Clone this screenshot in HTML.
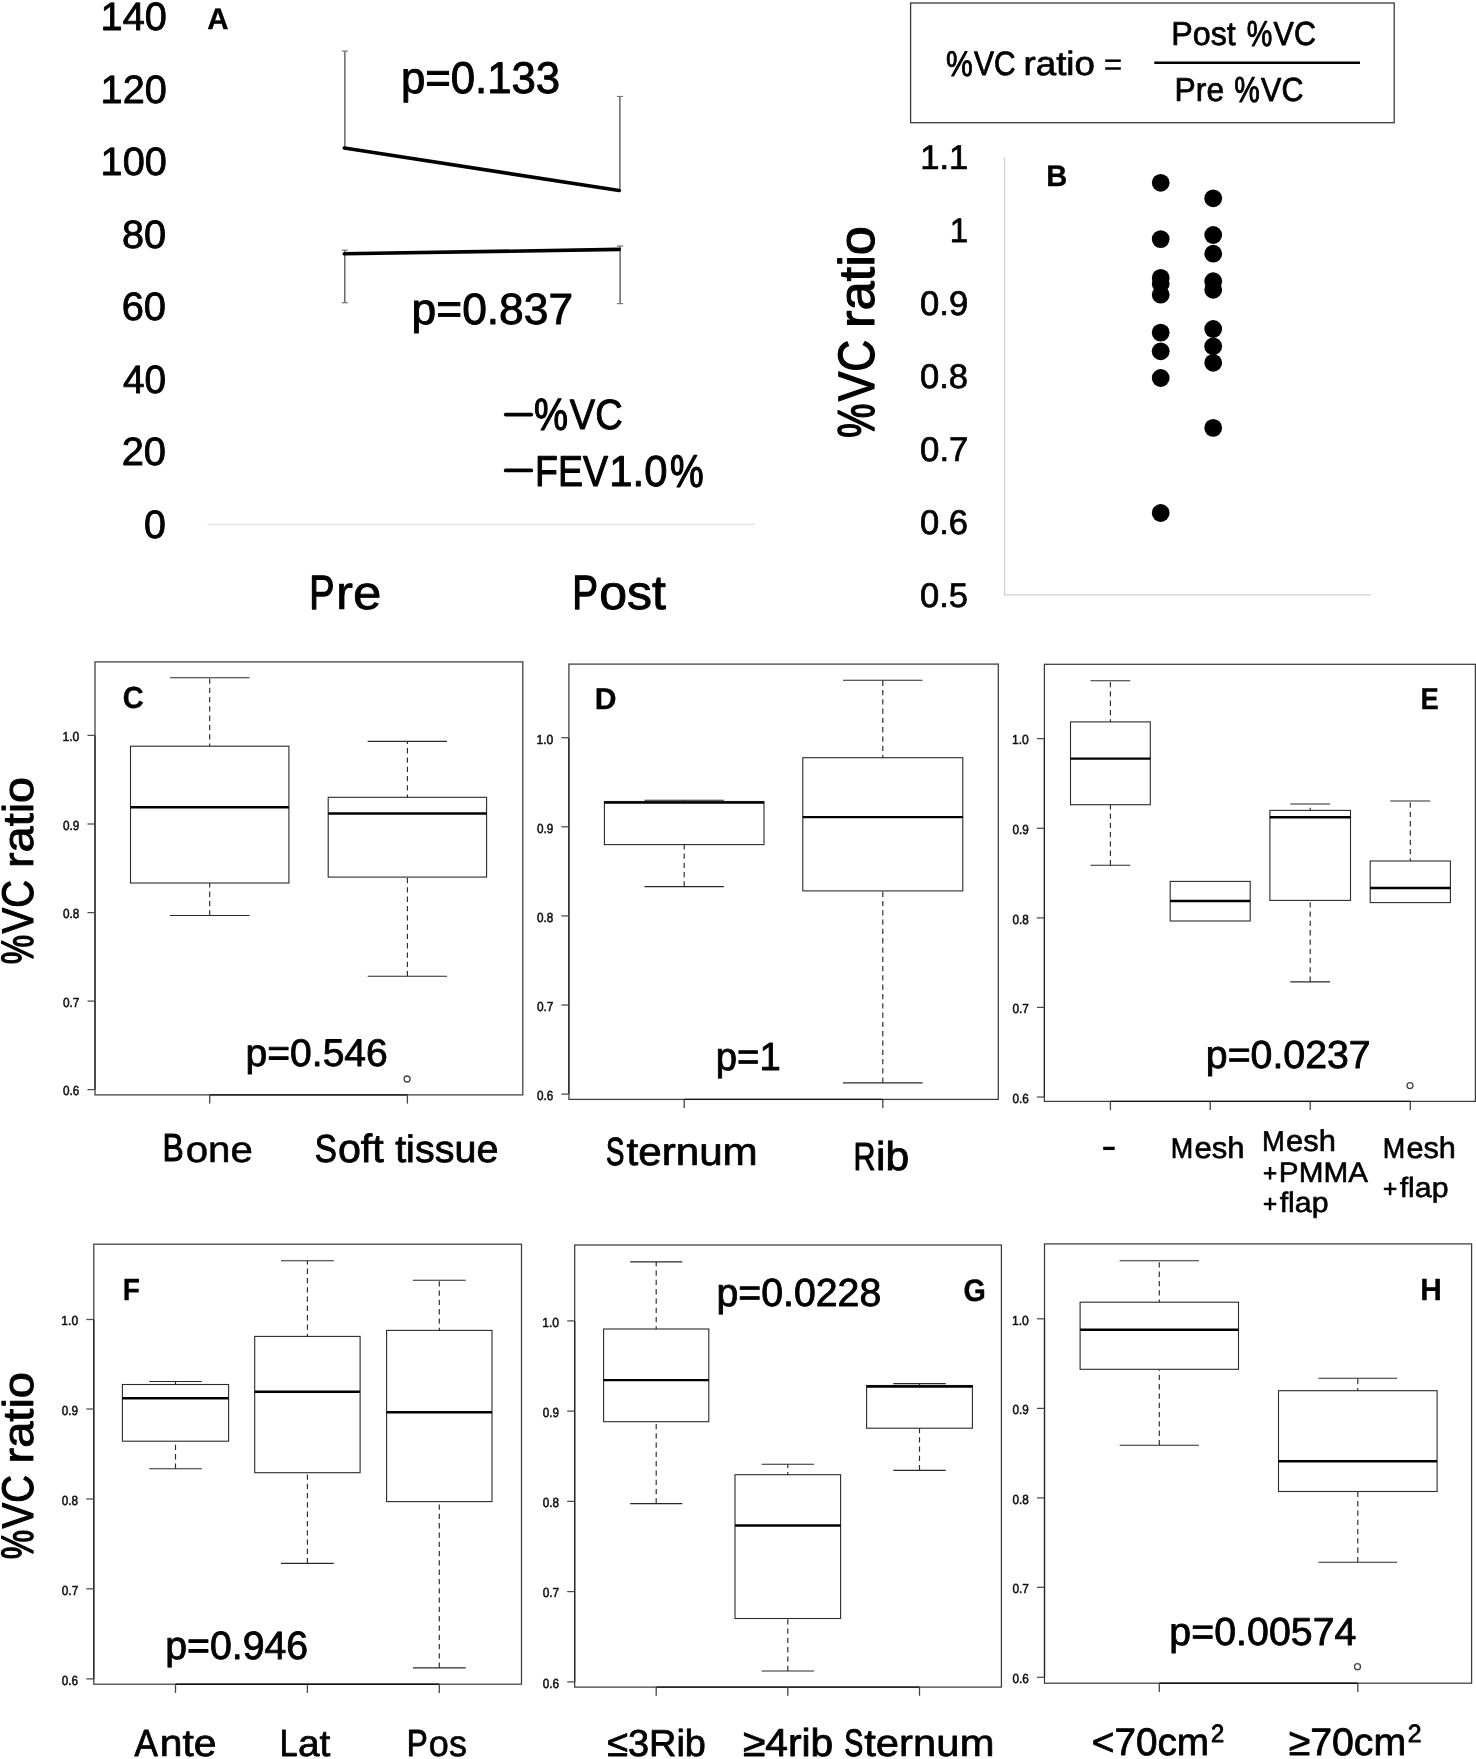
<!DOCTYPE html>
<html><head><meta charset="utf-8"><title>Figure</title>
<style>
html,body{margin:0;padding:0;background:#fff;}
body{width:1476px;height:1759px;overflow:hidden;}
svg{display:block;will-change:transform;text-rendering:geometricPrecision;font-family:"Liberation Sans",sans-serif;}
</style></head><body>
<svg width="1476" height="1759" viewBox="0 0 1476 1759">
<rect x="0" y="0" width="1476" height="1759" fill="#fff"/>
<text transform="matrix(0.19854 0 0 0.19750 100.55 30.32)" font-size="200" fill="#000" stroke="#000" stroke-width="4.31" stroke-linejoin="round">140</text>
<text transform="matrix(0.19854 0 0 0.19750 100.55 102.78)" font-size="200" fill="#000" stroke="#000" stroke-width="4.31" stroke-linejoin="round">120</text>
<text transform="matrix(0.19854 0 0 0.19750 100.55 175.24)" font-size="200" fill="#000" stroke="#000" stroke-width="4.31" stroke-linejoin="round">100</text>
<text transform="matrix(0.19779 0 0 0.19747 121.95 247.70)" font-size="200" fill="#000" stroke="#000" stroke-width="4.32" stroke-linejoin="round">80</text>
<text transform="matrix(0.19876 0 0 0.19750 121.74 320.17)" font-size="200" fill="#000" stroke="#000" stroke-width="4.30" stroke-linejoin="round">60</text>
<text transform="matrix(0.19310 0 0 0.19733 122.96 392.61)" font-size="200" fill="#000" stroke="#000" stroke-width="4.43" stroke-linejoin="round">40</text>
<text transform="matrix(0.19876 0 0 0.19750 121.74 465.09)" font-size="200" fill="#000" stroke="#000" stroke-width="4.30" stroke-linejoin="round">20</text>
<text transform="matrix(0.19630 0 0 0.19743 144.06 537.54)" font-size="200" fill="#000" stroke="#000" stroke-width="4.36" stroke-linejoin="round">0</text>
<line x1="207.60" y1="524.30" x2="755.20" y2="524.30" stroke="#e2e2e2" stroke-width="1.3"/>
<text transform="matrix(0.14776 0 0 0.14854 207.21 28.95)" font-size="200" font-weight="bold" fill="#000" stroke="#000" stroke-width="2.03" stroke-linejoin="round">A</text>
<line x1="344.90" y1="51.10" x2="344.90" y2="147.50" stroke="#4a4a4a" stroke-width="1.25"/>
<line x1="341.80" y1="51.10" x2="348.00" y2="51.10" stroke="#777" stroke-width="1.2"/>
<line x1="619.90" y1="96.50" x2="619.90" y2="191.00" stroke="#4a4a4a" stroke-width="1.25"/>
<line x1="616.80" y1="96.50" x2="623.00" y2="96.50" stroke="#777" stroke-width="1.2"/>
<line x1="344.80" y1="250.20" x2="344.80" y2="302.70" stroke="#4a4a4a" stroke-width="1.25"/>
<line x1="341.70" y1="250.20" x2="347.90" y2="250.20" stroke="#777" stroke-width="1.2"/>
<line x1="341.70" y1="302.70" x2="347.90" y2="302.70" stroke="#777" stroke-width="1.2"/>
<line x1="620.10" y1="246.00" x2="620.10" y2="303.60" stroke="#4a4a4a" stroke-width="1.25"/>
<line x1="617.00" y1="246.00" x2="623.20" y2="246.00" stroke="#777" stroke-width="1.2"/>
<line x1="617.00" y1="303.60" x2="623.20" y2="303.60" stroke="#777" stroke-width="1.2"/>
<line x1="344.30" y1="148.00" x2="619.20" y2="190.50" stroke="#000" stroke-width="3.6" stroke-linecap="round"/>
<line x1="344.30" y1="253.80" x2="619.20" y2="249.40" stroke="#000" stroke-width="3.6" stroke-linecap="round"/>
<text transform="matrix(0.21830 0 0 0.22161 401.04 93.41)" font-size="200" fill="#000" stroke="#000" stroke-width="4.40" stroke-linejoin="round">p=0.133</text>
<text transform="matrix(0.22163 0 0 0.21902 411.59 324.13)" font-size="200" fill="#000" stroke="#000" stroke-width="4.28" stroke-linejoin="round">p=0.837</text>
<line x1="505.70" y1="414.60" x2="531.30" y2="414.60" stroke="#000" stroke-width="3.7" stroke-linecap="round"/>
<text transform="matrix(0.19160 0 0 0.22622 534.05 430.42)" font-size="200" fill="#000" stroke="#000" stroke-width="5.10" stroke-linejoin="round">%</text>
<text transform="matrix(0.19067 0 0 0.21223 569.76 429.49)" font-size="200" fill="#000" stroke="#000" stroke-width="4.77" stroke-linejoin="round">VC</text>
<line x1="505.70" y1="470.40" x2="531.30" y2="470.40" stroke="#000" stroke-width="3.7" stroke-linecap="round"/>
<text transform="matrix(0.18783 0 0 0.21618 534.96 485.77)" font-size="200" fill="#000" stroke="#000" stroke-width="4.94" stroke-linejoin="round">FEV</text>
<text transform="matrix(0.20883 0 0 0.21661 609.34 485.81)" font-size="200" fill="#000" stroke="#000" stroke-width="4.50" stroke-linejoin="round">1.0</text>
<text transform="matrix(0.18907 0 0 0.22946 670.07 486.70)" font-size="200" fill="#000" stroke="#000" stroke-width="5.25" stroke-linejoin="round">%</text>
<text transform="matrix(0.18936 0 0 0.24115 309.29 609.04)" font-size="200" fill="#000" stroke="#000" stroke-width="5.48" stroke-linejoin="round">P</text>
<text transform="matrix(0.25458 0 0 0.23585 336.08 609.34)" font-size="200" fill="#000" stroke="#000" stroke-width="3.09" stroke-linejoin="round">re</text>
<text transform="matrix(0.19310 0 0 0.24132 572.33 609.05)" font-size="200" fill="#000" stroke="#000" stroke-width="5.38" stroke-linejoin="round">P</text>
<text transform="matrix(0.24955 0 0 0.24053 599.29 609.23)" font-size="200" fill="#000" stroke="#000" stroke-width="3.87" stroke-linejoin="round">ost</text>
<rect x="910.60" y="3.00" width="483.60" height="119.70" fill="none" stroke="#3a3a3a" stroke-width="1.3"/>
<text transform="matrix(0.15077 0 0 0.17900 946.03 75.84)" font-size="200" fill="#000" stroke="#000" stroke-width="5.13" stroke-linejoin="round">%</text>
<text transform="matrix(0.14973 0 0 0.16873 973.91 75.19)" font-size="200" fill="#000" stroke="#000" stroke-width="4.83" stroke-linejoin="round">VC</text>
<text transform="matrix(0.18329 0 0 0.16768 1023.59 75.26)" font-size="200" fill="#000" stroke="#000" stroke-width="4.09" stroke-linejoin="round">ratio</text>
<line x1="1105.20" y1="60.70" x2="1120.80" y2="60.70" stroke="#000" stroke-width="2.5"/>
<line x1="1105.20" y1="68.50" x2="1120.80" y2="68.50" stroke="#000" stroke-width="2.5"/>
<text transform="matrix(0.16133 0 0 0.16642 1171.27 45.33)" font-size="200" fill="#000" stroke="#000" stroke-width="4.41" stroke-linejoin="round">Post</text>
<text transform="matrix(0.14402 0 0 0.18004 1246.78 46.01)" font-size="200" fill="#000" stroke="#000" stroke-width="5.42" stroke-linejoin="round">%</text>
<text transform="matrix(0.15198 0 0 0.16746 1273.61 45.40)" font-size="200" fill="#000" stroke="#000" stroke-width="4.72" stroke-linejoin="round">VC</text>
<line x1="1154.30" y1="62.80" x2="1360.00" y2="62.80" stroke="#000" stroke-width="2.5"/>
<text transform="matrix(0.15941 0 0 0.16568 1174.50 101.33)" font-size="200" fill="#000" stroke="#000" stroke-width="4.44" stroke-linejoin="round">Pre</text>
<text transform="matrix(0.14401 0 0 0.18070 1234.28 102.11)" font-size="200" fill="#000" stroke="#000" stroke-width="5.44" stroke-linejoin="round">%</text>
<text transform="matrix(0.15198 0 0 0.16746 1261.11 101.40)" font-size="200" fill="#000" stroke="#000" stroke-width="4.72" stroke-linejoin="round">VC</text>
<text transform="matrix(0.17269 0 0 0.17051 920.18 169.24)" font-size="200" fill="#000" stroke="#000" stroke-width="4.27" stroke-linejoin="round">1.1</text>
<text transform="matrix(0.16508 0 0 0.17028 949.79 242.10)" font-size="200" fill="#000" stroke="#000" stroke-width="4.47" stroke-linejoin="round">1</text>
<text transform="matrix(0.17303 0 0 0.17052 920.08 315.00)" font-size="200" fill="#000" stroke="#000" stroke-width="4.27" stroke-linejoin="round">0.9</text>
<text transform="matrix(0.17237 0 0 0.17050 920.09 387.88)" font-size="200" fill="#000" stroke="#000" stroke-width="4.28" stroke-linejoin="round">0.8</text>
<text transform="matrix(0.17370 0 0 0.17054 920.08 460.76)" font-size="200" fill="#000" stroke="#000" stroke-width="4.25" stroke-linejoin="round">0.7</text>
<text transform="matrix(0.17237 0 0 0.17050 920.09 533.64)" font-size="200" fill="#000" stroke="#000" stroke-width="4.28" stroke-linejoin="round">0.6</text>
<text transform="matrix(0.17237 0 0 0.17050 920.09 606.52)" font-size="200" fill="#000" stroke="#000" stroke-width="4.28" stroke-linejoin="round">0.5</text>
<line x1="1004.60" y1="157.50" x2="1004.60" y2="595.40" stroke="#cfcfcf" stroke-width="1.2"/>
<line x1="1004.00" y1="594.90" x2="1370.70" y2="594.90" stroke="#cfcfcf" stroke-width="1.2"/>
<text transform="matrix(0.14590 0 0 0.14851 1046.25 185.75)" font-size="200" font-weight="bold" fill="#000" stroke="#000" stroke-width="2.06" stroke-linejoin="round">B</text>
<text transform="matrix(0 -0.26243 0.25119 0 874.06 328.05)" font-size="200" fill="#000" stroke="#000" stroke-width="4.29" stroke-linejoin="round">ratio</text>
<text transform="matrix(0 -0.19249 0.26022 0 874.24 437.78)" font-size="200" fill="#000" stroke="#000" stroke-width="5.88" stroke-linejoin="round">%</text>
<text transform="matrix(0 -0.22120 0.25601 0 873.96 401.37)" font-size="200" fill="#000" stroke="#000" stroke-width="4.96" stroke-linejoin="round">VC</text>
<circle cx="1160.70" cy="182.80" r="8.9" fill="#000" stroke="none" stroke-width="1"/>
<circle cx="1160.70" cy="239.10" r="8.9" fill="#000" stroke="none" stroke-width="1"/>
<circle cx="1160.70" cy="277.90" r="8.9" fill="#000" stroke="none" stroke-width="1"/>
<circle cx="1160.70" cy="283.70" r="8.9" fill="#000" stroke="none" stroke-width="1"/>
<circle cx="1160.70" cy="294.70" r="8.9" fill="#000" stroke="none" stroke-width="1"/>
<circle cx="1160.70" cy="332.60" r="8.9" fill="#000" stroke="none" stroke-width="1"/>
<circle cx="1160.70" cy="351.30" r="8.9" fill="#000" stroke="none" stroke-width="1"/>
<circle cx="1160.70" cy="378.00" r="8.9" fill="#000" stroke="none" stroke-width="1"/>
<circle cx="1160.70" cy="513.00" r="8.9" fill="#000" stroke="none" stroke-width="1"/>
<circle cx="1213.20" cy="198.30" r="8.9" fill="#000" stroke="none" stroke-width="1"/>
<circle cx="1213.20" cy="235.00" r="8.9" fill="#000" stroke="none" stroke-width="1"/>
<circle cx="1213.20" cy="253.70" r="8.9" fill="#000" stroke="none" stroke-width="1"/>
<circle cx="1213.20" cy="281.20" r="8.9" fill="#000" stroke="none" stroke-width="1"/>
<circle cx="1213.20" cy="289.80" r="8.9" fill="#000" stroke="none" stroke-width="1"/>
<circle cx="1213.20" cy="329.00" r="8.9" fill="#000" stroke="none" stroke-width="1"/>
<circle cx="1213.20" cy="346.30" r="8.9" fill="#000" stroke="none" stroke-width="1"/>
<circle cx="1213.20" cy="362.80" r="8.9" fill="#000" stroke="none" stroke-width="1"/>
<circle cx="1213.20" cy="427.90" r="8.9" fill="#000" stroke="none" stroke-width="1"/>
<rect x="95.00" y="661.90" width="427.80" height="433.00" fill="none" stroke="#3c3c3c" stroke-width="1.25"/>
<line x1="95.00" y1="735.40" x2="95.00" y2="1089.60" stroke="#222" stroke-width="1.2"/>
<line x1="87.50" y1="735.40" x2="95.00" y2="735.40" stroke="#4a4a4a" stroke-width="1.25"/>
<text transform="matrix(0.06016 0 0 0.06540 62.55 741.23)" font-size="200" fill="#111" stroke="#111" stroke-width="8.31" stroke-linejoin="round">1.0</text>
<line x1="87.50" y1="824.00" x2="95.00" y2="824.00" stroke="#4a4a4a" stroke-width="1.25"/>
<text transform="matrix(0.05900 0 0 0.06533 62.98 829.82)" font-size="200" fill="#111" stroke="#111" stroke-width="8.47" stroke-linejoin="round">0.9</text>
<line x1="87.50" y1="912.60" x2="95.00" y2="912.60" stroke="#4a4a4a" stroke-width="1.25"/>
<text transform="matrix(0.05878 0 0 0.06532 62.98 918.42)" font-size="200" fill="#111" stroke="#111" stroke-width="8.51" stroke-linejoin="round">0.8</text>
<line x1="87.50" y1="1001.10" x2="95.00" y2="1001.10" stroke="#4a4a4a" stroke-width="1.25"/>
<text transform="matrix(0.05923 0 0 0.06534 62.98 1006.92)" font-size="200" fill="#111" stroke="#111" stroke-width="8.44" stroke-linejoin="round">0.7</text>
<line x1="87.50" y1="1089.60" x2="95.00" y2="1089.60" stroke="#4a4a4a" stroke-width="1.25"/>
<text transform="matrix(0.05878 0 0 0.06532 62.98 1095.42)" font-size="200" fill="#111" stroke="#111" stroke-width="8.51" stroke-linejoin="round">0.6</text>
<line x1="209.70" y1="1094.90" x2="407.40" y2="1094.90" stroke="#111" stroke-width="1.35"/>
<line x1="209.70" y1="1094.90" x2="209.70" y2="1103.60" stroke="#444" stroke-width="1.3"/>
<rect x="130.50" y="746.20" width="158.40" height="136.80" fill="none" stroke="#2a2a2a" stroke-width="1.1"/>
<line x1="130.50" y1="807.20" x2="288.90" y2="807.20" stroke="#000" stroke-width="2.45"/>
<line x1="209.70" y1="746.20" x2="209.70" y2="677.70" stroke="#2a2a2a" stroke-width="1.15" stroke-dasharray="5.3 4.0" stroke-dashoffset="2.6"/>
<line x1="169.90" y1="677.70" x2="249.50" y2="677.70" stroke="#2a2a2a" stroke-width="1.1"/>
<line x1="209.70" y1="915.50" x2="209.70" y2="883.00" stroke="#2a2a2a" stroke-width="1.15" stroke-dasharray="5.3 4.0"/>
<line x1="169.90" y1="915.50" x2="249.50" y2="915.50" stroke="#2a2a2a" stroke-width="1.1"/>
<line x1="407.40" y1="1094.90" x2="407.40" y2="1103.60" stroke="#444" stroke-width="1.3"/>
<rect x="328.20" y="797.30" width="158.40" height="79.80" fill="none" stroke="#2a2a2a" stroke-width="1.1"/>
<line x1="328.20" y1="813.40" x2="486.60" y2="813.40" stroke="#000" stroke-width="2.45"/>
<line x1="407.40" y1="797.30" x2="407.40" y2="741.40" stroke="#2a2a2a" stroke-width="1.15" stroke-dasharray="5.3 4.0" stroke-dashoffset="2.6"/>
<line x1="367.70" y1="741.40" x2="447.10" y2="741.40" stroke="#2a2a2a" stroke-width="1.1"/>
<line x1="407.40" y1="976.30" x2="407.40" y2="877.10" stroke="#2a2a2a" stroke-width="1.15" stroke-dasharray="5.3 4.0"/>
<line x1="367.70" y1="976.30" x2="447.10" y2="976.30" stroke="#2a2a2a" stroke-width="1.1"/>
<circle cx="407.10" cy="1079.00" r="3.0" fill="none" stroke="#444" stroke-width="1.3"/>
<text transform="matrix(0.14580 0 0 0.15275 122.68 708.34)" font-size="200" font-weight="bold" fill="#000" stroke="#000" stroke-width="2.06" stroke-linejoin="round">C</text>
<text transform="matrix(0.19543 0 0 0.19202 245.47 1065.79)" font-size="200" fill="#000" stroke="#000" stroke-width="4.25" stroke-linejoin="round">p=0.546</text>
<text transform="matrix(0.15944 0 0 0.19544 162.47 1161.49)" font-size="200" fill="#000" stroke="#000" stroke-width="5.27" stroke-linejoin="round">B</text>
<text transform="matrix(0.20154 0 0 0.18372 185.69 1161.72)" font-size="200" fill="#000" stroke="#000" stroke-width="3.04" stroke-linejoin="round">one</text>
<text transform="matrix(0.16569 0 0 0.19434 314.63 1161.50)" font-size="200" fill="#000" stroke="#000" stroke-width="5.11" stroke-linejoin="round">S</text>
<text transform="matrix(0.20619 0 0 0.19695 337.89 1161.58)" font-size="200" fill="#000" stroke="#000" stroke-width="4.28" stroke-linejoin="round">oft</text>
<text transform="matrix(0.19774 0 0 0.19021 395.13 1161.59)" font-size="200" fill="#000" stroke="#000" stroke-width="4.31" stroke-linejoin="round">tissue</text>
<text transform="matrix(0 -0.23462 0.21463 0 32.76 868.07)" font-size="200" fill="#000" stroke="#000" stroke-width="4.09" stroke-linejoin="round">ratio</text>
<text transform="matrix(0 -0.16530 0.22760 0 33.32 964.26)" font-size="200" fill="#000" stroke="#000" stroke-width="5.99" stroke-linejoin="round">%</text>
<text transform="matrix(0 -0.19200 0.22175 0 32.65 933.42)" font-size="200" fill="#000" stroke="#000" stroke-width="4.95" stroke-linejoin="round">VC</text>
<rect x="568.90" y="664.10" width="429.40" height="435.30" fill="none" stroke="#3c3c3c" stroke-width="1.25"/>
<line x1="568.90" y1="737.70" x2="568.90" y2="1094.10" stroke="#222" stroke-width="1.2"/>
<line x1="561.40" y1="737.70" x2="568.90" y2="737.70" stroke="#4a4a4a" stroke-width="1.25"/>
<text transform="matrix(0.06016 0 0 0.06540 536.45 743.53)" font-size="200" fill="#111" stroke="#111" stroke-width="8.31" stroke-linejoin="round">1.0</text>
<line x1="561.40" y1="826.80" x2="568.90" y2="826.80" stroke="#4a4a4a" stroke-width="1.25"/>
<text transform="matrix(0.05900 0 0 0.06533 536.88 832.62)" font-size="200" fill="#111" stroke="#111" stroke-width="8.47" stroke-linejoin="round">0.9</text>
<line x1="561.40" y1="915.90" x2="568.90" y2="915.90" stroke="#4a4a4a" stroke-width="1.25"/>
<text transform="matrix(0.05878 0 0 0.06532 536.88 921.72)" font-size="200" fill="#111" stroke="#111" stroke-width="8.51" stroke-linejoin="round">0.8</text>
<line x1="561.40" y1="1005.00" x2="568.90" y2="1005.00" stroke="#4a4a4a" stroke-width="1.25"/>
<text transform="matrix(0.05923 0 0 0.06534 536.88 1010.82)" font-size="200" fill="#111" stroke="#111" stroke-width="8.44" stroke-linejoin="round">0.7</text>
<line x1="561.40" y1="1094.10" x2="568.90" y2="1094.10" stroke="#4a4a4a" stroke-width="1.25"/>
<text transform="matrix(0.05878 0 0 0.06532 536.88 1099.92)" font-size="200" fill="#111" stroke="#111" stroke-width="8.51" stroke-linejoin="round">0.6</text>
<line x1="684.20" y1="1099.40" x2="882.80" y2="1099.40" stroke="#111" stroke-width="1.35"/>
<line x1="684.20" y1="1099.40" x2="684.20" y2="1108.10" stroke="#444" stroke-width="1.3"/>
<rect x="604.40" y="801.50" width="159.60" height="43.10" fill="none" stroke="#2a2a2a" stroke-width="1.1"/>
<line x1="604.40" y1="802.60" x2="764.00" y2="802.60" stroke="#000" stroke-width="2.45"/>
<line x1="684.20" y1="801.50" x2="684.20" y2="800.30" stroke="#2a2a2a" stroke-width="1.15" stroke-dasharray="5.3 4.0" stroke-dashoffset="2.6"/>
<line x1="644.50" y1="800.30" x2="723.90" y2="800.30" stroke="#2a2a2a" stroke-width="1.1"/>
<line x1="684.20" y1="886.60" x2="684.20" y2="844.60" stroke="#2a2a2a" stroke-width="1.15" stroke-dasharray="5.3 4.0"/>
<line x1="644.50" y1="886.60" x2="723.90" y2="886.60" stroke="#2a2a2a" stroke-width="1.1"/>
<line x1="882.80" y1="1099.40" x2="882.80" y2="1108.10" stroke="#444" stroke-width="1.3"/>
<rect x="802.80" y="757.70" width="160.00" height="133.20" fill="none" stroke="#2a2a2a" stroke-width="1.1"/>
<line x1="802.80" y1="817.10" x2="962.80" y2="817.10" stroke="#000" stroke-width="2.45"/>
<line x1="882.80" y1="757.70" x2="882.80" y2="680.20" stroke="#2a2a2a" stroke-width="1.15" stroke-dasharray="5.3 4.0" stroke-dashoffset="2.6"/>
<line x1="843.00" y1="680.20" x2="922.60" y2="680.20" stroke="#2a2a2a" stroke-width="1.1"/>
<line x1="882.80" y1="1082.90" x2="882.80" y2="890.90" stroke="#2a2a2a" stroke-width="1.15" stroke-dasharray="5.3 4.0"/>
<line x1="843.00" y1="1082.90" x2="922.60" y2="1082.90" stroke="#2a2a2a" stroke-width="1.1"/>
<text transform="matrix(0.15041 0 0 0.15072 594.79 709.15)" font-size="200" font-weight="bold" fill="#000" stroke="#000" stroke-width="1.99" stroke-linejoin="round">D</text>
<text transform="matrix(0.19168 0 0 0.19597 715.73 1069.87)" font-size="200" fill="#000" stroke="#000" stroke-width="4.37" stroke-linejoin="round">p=1</text>
<text transform="matrix(0.13776 0 0 0.19558 606.09 1164.59)" font-size="200" fill="#000" stroke="#000" stroke-width="6.23" stroke-linejoin="round">S</text>
<text transform="matrix(0.21058 0 0 0.19446 626.56 1164.84)" font-size="200" fill="#000" stroke="#000" stroke-width="3.70" stroke-linejoin="round">ternum</text>
<text transform="matrix(0.15258 0 0 0.19578 853.38 1169.66)" font-size="200" fill="#000" stroke="#000" stroke-width="5.52" stroke-linejoin="round">R</text>
<text transform="matrix(0.21269 0 0 0.20103 876.09 1169.77)" font-size="200" fill="#000" stroke="#000" stroke-width="4.23" stroke-linejoin="round">ib</text>
<rect x="1044.40" y="664.30" width="431.00" height="437.10" fill="none" stroke="#3c3c3c" stroke-width="1.25"/>
<line x1="1044.40" y1="738.60" x2="1044.40" y2="1097.00" stroke="#222" stroke-width="1.2"/>
<line x1="1036.90" y1="738.60" x2="1044.40" y2="738.60" stroke="#4a4a4a" stroke-width="1.25"/>
<text transform="matrix(0.06016 0 0 0.06540 1011.95 744.43)" font-size="200" fill="#111" stroke="#111" stroke-width="8.31" stroke-linejoin="round">1.0</text>
<line x1="1036.90" y1="828.30" x2="1044.40" y2="828.30" stroke="#4a4a4a" stroke-width="1.25"/>
<text transform="matrix(0.05900 0 0 0.06533 1012.38 834.12)" font-size="200" fill="#111" stroke="#111" stroke-width="8.47" stroke-linejoin="round">0.9</text>
<line x1="1036.90" y1="917.90" x2="1044.40" y2="917.90" stroke="#4a4a4a" stroke-width="1.25"/>
<text transform="matrix(0.05878 0 0 0.06532 1012.38 923.72)" font-size="200" fill="#111" stroke="#111" stroke-width="8.51" stroke-linejoin="round">0.8</text>
<line x1="1036.90" y1="1007.40" x2="1044.40" y2="1007.40" stroke="#4a4a4a" stroke-width="1.25"/>
<text transform="matrix(0.05923 0 0 0.06534 1012.38 1013.22)" font-size="200" fill="#111" stroke="#111" stroke-width="8.44" stroke-linejoin="round">0.7</text>
<line x1="1036.90" y1="1097.00" x2="1044.40" y2="1097.00" stroke="#4a4a4a" stroke-width="1.25"/>
<text transform="matrix(0.05878 0 0 0.06532 1012.38 1102.82)" font-size="200" fill="#111" stroke="#111" stroke-width="8.51" stroke-linejoin="round">0.6</text>
<line x1="1110.40" y1="1101.40" x2="1410.30" y2="1101.40" stroke="#111" stroke-width="1.35"/>
<line x1="1110.40" y1="1101.40" x2="1110.40" y2="1110.10" stroke="#444" stroke-width="1.3"/>
<rect x="1070.50" y="721.90" width="79.80" height="82.80" fill="none" stroke="#2a2a2a" stroke-width="1.1"/>
<line x1="1070.50" y1="758.60" x2="1150.30" y2="758.60" stroke="#000" stroke-width="2.45"/>
<line x1="1110.40" y1="721.90" x2="1110.40" y2="680.80" stroke="#2a2a2a" stroke-width="1.15" stroke-dasharray="5.3 4.0" stroke-dashoffset="2.6"/>
<line x1="1090.50" y1="680.80" x2="1130.30" y2="680.80" stroke="#2a2a2a" stroke-width="1.1"/>
<line x1="1110.40" y1="865.20" x2="1110.40" y2="804.70" stroke="#2a2a2a" stroke-width="1.15" stroke-dasharray="5.3 4.0"/>
<line x1="1090.50" y1="865.20" x2="1130.30" y2="865.20" stroke="#2a2a2a" stroke-width="1.1"/>
<line x1="1210.20" y1="1101.40" x2="1210.20" y2="1110.10" stroke="#444" stroke-width="1.3"/>
<rect x="1170.20" y="881.40" width="80.00" height="39.60" fill="none" stroke="#2a2a2a" stroke-width="1.1"/>
<line x1="1170.20" y1="901.00" x2="1250.20" y2="901.00" stroke="#000" stroke-width="2.45"/>
<line x1="1310.20" y1="1101.40" x2="1310.20" y2="1110.10" stroke="#444" stroke-width="1.3"/>
<rect x="1269.90" y="810.40" width="80.60" height="90.00" fill="none" stroke="#2a2a2a" stroke-width="1.1"/>
<line x1="1269.90" y1="817.30" x2="1350.50" y2="817.30" stroke="#000" stroke-width="2.45"/>
<line x1="1310.20" y1="810.40" x2="1310.20" y2="804.00" stroke="#2a2a2a" stroke-width="1.15" stroke-dasharray="5.3 4.0" stroke-dashoffset="2.6"/>
<line x1="1290.30" y1="804.00" x2="1330.10" y2="804.00" stroke="#2a2a2a" stroke-width="1.1"/>
<line x1="1310.20" y1="981.90" x2="1310.20" y2="900.40" stroke="#2a2a2a" stroke-width="1.15" stroke-dasharray="5.3 4.0"/>
<line x1="1290.30" y1="981.90" x2="1330.10" y2="981.90" stroke="#2a2a2a" stroke-width="1.1"/>
<line x1="1410.30" y1="1101.40" x2="1410.30" y2="1110.10" stroke="#444" stroke-width="1.3"/>
<rect x="1370.20" y="861.00" width="80.20" height="41.60" fill="none" stroke="#2a2a2a" stroke-width="1.1"/>
<line x1="1370.20" y1="887.90" x2="1450.40" y2="887.90" stroke="#000" stroke-width="2.45"/>
<line x1="1410.30" y1="861.00" x2="1410.30" y2="801.00" stroke="#2a2a2a" stroke-width="1.15" stroke-dasharray="5.3 4.0" stroke-dashoffset="2.6"/>
<line x1="1390.30" y1="801.00" x2="1430.30" y2="801.00" stroke="#2a2a2a" stroke-width="1.1"/>
<circle cx="1410.00" cy="1085.60" r="3.0" fill="none" stroke="#444" stroke-width="1.3"/>
<text transform="matrix(0.13717 0 0 0.15051 1420.47 709.14)" font-size="200" font-weight="bold" fill="#000" stroke="#000" stroke-width="2.19" stroke-linejoin="round">E</text>
<text transform="matrix(0.19627 0 0 0.19541 1205.87 1067.78)" font-size="200" fill="#000" stroke="#000" stroke-width="4.31" stroke-linejoin="round">p=0.0237</text>
<line x1="1103.20" y1="1148.40" x2="1114.70" y2="1148.40" stroke="#000" stroke-width="3.3"/>
<text transform="matrix(0.13499 0 0 0.14312 1170.85 1158.28)" font-size="200" fill="#000" stroke="#000" stroke-width="4.53" stroke-linejoin="round">M</text>
<text transform="matrix(0.15492 0 0 0.14935 1194.60 1158.28)" font-size="200" fill="#000" stroke="#000" stroke-width="4.32" stroke-linejoin="round">esh</text>
<text transform="matrix(0.13648 0 0 0.14317 1262.12 1151.08)" font-size="200" fill="#000" stroke="#000" stroke-width="4.48" stroke-linejoin="round">M</text>
<text transform="matrix(0.15426 0 0 0.14933 1286.10 1151.08)" font-size="200" fill="#000" stroke="#000" stroke-width="4.34" stroke-linejoin="round">esh</text>
<line x1="1263.80" y1="1173.30" x2="1276.30" y2="1173.30" stroke="#000" stroke-width="2.5"/>
<line x1="1270.05" y1="1167.00" x2="1270.05" y2="1179.60" stroke="#000" stroke-width="2.5"/>
<text transform="matrix(0.14863 0 0 0.14081 1278.82 1181.72)" font-size="200" fill="#000" stroke="#000" stroke-width="4.04" stroke-linejoin="round">PMMA</text>
<line x1="1263.80" y1="1204.00" x2="1276.30" y2="1204.00" stroke="#000" stroke-width="2.5"/>
<line x1="1270.05" y1="1197.70" x2="1270.05" y2="1210.30" stroke="#000" stroke-width="2.5"/>
<text transform="matrix(0.15167 0 0 0.14079 1279.66 1212.31)" font-size="200" fill="#000" stroke="#000" stroke-width="4.15" stroke-linejoin="round">flap</text>
<text transform="matrix(0.13499 0 0 0.14312 1382.65 1158.28)" font-size="200" fill="#000" stroke="#000" stroke-width="4.53" stroke-linejoin="round">M</text>
<text transform="matrix(0.15359 0 0 0.14931 1406.41 1158.27)" font-size="200" fill="#000" stroke="#000" stroke-width="4.36" stroke-linejoin="round">esh</text>
<line x1="1383.80" y1="1188.90" x2="1396.40" y2="1188.90" stroke="#000" stroke-width="2.5"/>
<line x1="1390.10" y1="1182.60" x2="1390.10" y2="1195.20" stroke="#000" stroke-width="2.5"/>
<text transform="matrix(0.15137 0 0 0.13948 1399.66 1197.31)" font-size="200" fill="#000" stroke="#000" stroke-width="4.12" stroke-linejoin="round">flap</text>
<rect x="93.80" y="1244.20" width="427.70" height="440.00" fill="none" stroke="#3c3c3c" stroke-width="1.25"/>
<line x1="93.80" y1="1319.50" x2="93.80" y2="1678.90" stroke="#222" stroke-width="1.2"/>
<line x1="86.30" y1="1319.50" x2="93.80" y2="1319.50" stroke="#4a4a4a" stroke-width="1.25"/>
<text transform="matrix(0.06016 0 0 0.06540 61.35 1325.33)" font-size="200" fill="#111" stroke="#111" stroke-width="8.31" stroke-linejoin="round">1.0</text>
<line x1="86.30" y1="1409.00" x2="93.80" y2="1409.00" stroke="#4a4a4a" stroke-width="1.25"/>
<text transform="matrix(0.05900 0 0 0.06533 61.78 1414.82)" font-size="200" fill="#111" stroke="#111" stroke-width="8.47" stroke-linejoin="round">0.9</text>
<line x1="86.30" y1="1499.00" x2="93.80" y2="1499.00" stroke="#4a4a4a" stroke-width="1.25"/>
<text transform="matrix(0.05878 0 0 0.06532 61.78 1504.82)" font-size="200" fill="#111" stroke="#111" stroke-width="8.51" stroke-linejoin="round">0.8</text>
<line x1="86.30" y1="1588.80" x2="93.80" y2="1588.80" stroke="#4a4a4a" stroke-width="1.25"/>
<text transform="matrix(0.05923 0 0 0.06534 61.78 1594.62)" font-size="200" fill="#111" stroke="#111" stroke-width="8.44" stroke-linejoin="round">0.7</text>
<line x1="86.30" y1="1678.90" x2="93.80" y2="1678.90" stroke="#4a4a4a" stroke-width="1.25"/>
<text transform="matrix(0.05878 0 0 0.06532 61.78 1684.72)" font-size="200" fill="#111" stroke="#111" stroke-width="8.51" stroke-linejoin="round">0.6</text>
<line x1="175.50" y1="1684.20" x2="439.30" y2="1684.20" stroke="#111" stroke-width="1.35"/>
<line x1="175.50" y1="1684.20" x2="175.50" y2="1692.90" stroke="#444" stroke-width="1.3"/>
<rect x="122.40" y="1384.50" width="106.20" height="56.70" fill="none" stroke="#2a2a2a" stroke-width="1.1"/>
<line x1="122.40" y1="1398.20" x2="228.60" y2="1398.20" stroke="#000" stroke-width="2.45"/>
<line x1="175.50" y1="1384.50" x2="175.50" y2="1381.50" stroke="#2a2a2a" stroke-width="1.15" stroke-dasharray="5.3 4.0" stroke-dashoffset="2.6"/>
<line x1="149.20" y1="1381.50" x2="201.80" y2="1381.50" stroke="#2a2a2a" stroke-width="1.1"/>
<line x1="175.50" y1="1468.70" x2="175.50" y2="1441.20" stroke="#2a2a2a" stroke-width="1.15" stroke-dasharray="5.3 4.0"/>
<line x1="149.20" y1="1468.70" x2="201.80" y2="1468.70" stroke="#2a2a2a" stroke-width="1.1"/>
<line x1="307.40" y1="1684.20" x2="307.40" y2="1692.90" stroke="#444" stroke-width="1.3"/>
<rect x="254.70" y="1336.40" width="105.40" height="136.30" fill="none" stroke="#2a2a2a" stroke-width="1.1"/>
<line x1="254.70" y1="1391.70" x2="360.10" y2="1391.70" stroke="#000" stroke-width="2.45"/>
<line x1="307.40" y1="1336.40" x2="307.40" y2="1260.70" stroke="#2a2a2a" stroke-width="1.15" stroke-dasharray="5.3 4.0" stroke-dashoffset="2.6"/>
<line x1="281.00" y1="1260.70" x2="333.80" y2="1260.70" stroke="#2a2a2a" stroke-width="1.1"/>
<line x1="307.40" y1="1563.40" x2="307.40" y2="1472.70" stroke="#2a2a2a" stroke-width="1.15" stroke-dasharray="5.3 4.0"/>
<line x1="281.00" y1="1563.40" x2="333.80" y2="1563.40" stroke="#2a2a2a" stroke-width="1.1"/>
<line x1="439.30" y1="1684.20" x2="439.30" y2="1692.90" stroke="#444" stroke-width="1.3"/>
<rect x="386.60" y="1330.40" width="105.40" height="171.20" fill="none" stroke="#2a2a2a" stroke-width="1.1"/>
<line x1="386.60" y1="1412.30" x2="492.00" y2="1412.30" stroke="#000" stroke-width="2.45"/>
<line x1="439.30" y1="1330.40" x2="439.30" y2="1280.20" stroke="#2a2a2a" stroke-width="1.15" stroke-dasharray="5.3 4.0" stroke-dashoffset="2.6"/>
<line x1="412.90" y1="1280.20" x2="465.70" y2="1280.20" stroke="#2a2a2a" stroke-width="1.1"/>
<line x1="439.30" y1="1667.90" x2="439.30" y2="1501.60" stroke="#2a2a2a" stroke-width="1.15" stroke-dasharray="5.3 4.0"/>
<line x1="412.90" y1="1667.90" x2="465.70" y2="1667.90" stroke="#2a2a2a" stroke-width="1.1"/>
<text transform="matrix(0.14020 0 0 0.15270 122.73 1299.74)" font-size="200" font-weight="bold" fill="#000" stroke="#000" stroke-width="2.14" stroke-linejoin="round">F</text>
<text transform="matrix(0.19624 0 0 0.19743 165.18 1658.67)" font-size="200" fill="#000" stroke="#000" stroke-width="4.36" stroke-linejoin="round">p=0.946</text>
<text transform="matrix(0.17436 0 0 0.18928 134.50 1756.16)" font-size="200" fill="#000" stroke="#000" stroke-width="4.65" stroke-linejoin="round">A</text>
<text transform="matrix(0.20447 0 0 0.18849 159.72 1756.25)" font-size="200" fill="#000" stroke="#000" stroke-width="3.70" stroke-linejoin="round">nte</text>
<text transform="matrix(0.16056 0 0 0.18875 279.64 1756.12)" font-size="200" fill="#000" stroke="#000" stroke-width="5.04" stroke-linejoin="round">L</text>
<text transform="matrix(0.19401 0 0 0.18458 298.02 1756.25)" font-size="200" fill="#000" stroke="#000" stroke-width="3.82" stroke-linejoin="round">at</text>
<text transform="matrix(0.15692 0 0 0.18860 406.69 1756.11)" font-size="200" fill="#000" stroke="#000" stroke-width="5.16" stroke-linejoin="round">P</text>
<text transform="matrix(0.18004 0 0 0.18312 428.87 1756.29)" font-size="200" fill="#000" stroke="#000" stroke-width="3.40" stroke-linejoin="round">os</text>
<text transform="matrix(0 -0.23516 0.21465 0 32.76 1463.48)" font-size="200" fill="#000" stroke="#000" stroke-width="4.08" stroke-linejoin="round">ratio</text>
<text transform="matrix(0 -0.16530 0.22760 0 33.32 1559.26)" font-size="200" fill="#000" stroke="#000" stroke-width="5.99" stroke-linejoin="round">%</text>
<text transform="matrix(0 -0.19200 0.22175 0 32.65 1528.42)" font-size="200" fill="#000" stroke="#000" stroke-width="4.95" stroke-linejoin="round">VC</text>
<rect x="574.70" y="1245.00" width="426.70" height="442.10" fill="none" stroke="#3c3c3c" stroke-width="1.25"/>
<line x1="574.70" y1="1320.90" x2="574.70" y2="1681.90" stroke="#222" stroke-width="1.2"/>
<line x1="567.20" y1="1320.90" x2="574.70" y2="1320.90" stroke="#4a4a4a" stroke-width="1.25"/>
<text transform="matrix(0.06016 0 0 0.06540 542.25 1326.73)" font-size="200" fill="#111" stroke="#111" stroke-width="8.31" stroke-linejoin="round">1.0</text>
<line x1="567.20" y1="1411.10" x2="574.70" y2="1411.10" stroke="#4a4a4a" stroke-width="1.25"/>
<text transform="matrix(0.05900 0 0 0.06533 542.68 1416.92)" font-size="200" fill="#111" stroke="#111" stroke-width="8.47" stroke-linejoin="round">0.9</text>
<line x1="567.20" y1="1501.40" x2="574.70" y2="1501.40" stroke="#4a4a4a" stroke-width="1.25"/>
<text transform="matrix(0.05878 0 0 0.06532 542.68 1507.22)" font-size="200" fill="#111" stroke="#111" stroke-width="8.51" stroke-linejoin="round">0.8</text>
<line x1="567.20" y1="1591.60" x2="574.70" y2="1591.60" stroke="#4a4a4a" stroke-width="1.25"/>
<text transform="matrix(0.05923 0 0 0.06534 542.68 1597.42)" font-size="200" fill="#111" stroke="#111" stroke-width="8.44" stroke-linejoin="round">0.7</text>
<line x1="567.20" y1="1681.90" x2="574.70" y2="1681.90" stroke="#4a4a4a" stroke-width="1.25"/>
<text transform="matrix(0.05878 0 0 0.06532 542.68 1687.72)" font-size="200" fill="#111" stroke="#111" stroke-width="8.51" stroke-linejoin="round">0.6</text>
<line x1="656.20" y1="1687.10" x2="919.50" y2="1687.10" stroke="#111" stroke-width="1.35"/>
<line x1="656.20" y1="1687.10" x2="656.20" y2="1695.80" stroke="#444" stroke-width="1.3"/>
<rect x="603.60" y="1329.00" width="105.20" height="92.70" fill="none" stroke="#2a2a2a" stroke-width="1.1"/>
<line x1="603.60" y1="1380.10" x2="708.80" y2="1380.10" stroke="#000" stroke-width="2.45"/>
<line x1="656.20" y1="1329.00" x2="656.20" y2="1261.90" stroke="#2a2a2a" stroke-width="1.15" stroke-dasharray="5.3 4.0" stroke-dashoffset="2.6"/>
<line x1="630.10" y1="1261.90" x2="682.30" y2="1261.90" stroke="#2a2a2a" stroke-width="1.1"/>
<line x1="656.20" y1="1503.60" x2="656.20" y2="1421.70" stroke="#2a2a2a" stroke-width="1.15" stroke-dasharray="5.3 4.0"/>
<line x1="630.10" y1="1503.60" x2="682.30" y2="1503.60" stroke="#2a2a2a" stroke-width="1.1"/>
<line x1="787.80" y1="1687.10" x2="787.80" y2="1695.80" stroke="#444" stroke-width="1.3"/>
<rect x="735.00" y="1474.70" width="105.60" height="143.80" fill="none" stroke="#2a2a2a" stroke-width="1.1"/>
<line x1="735.00" y1="1525.40" x2="840.60" y2="1525.40" stroke="#000" stroke-width="2.45"/>
<line x1="787.80" y1="1474.70" x2="787.80" y2="1464.30" stroke="#2a2a2a" stroke-width="1.15" stroke-dasharray="5.3 4.0" stroke-dashoffset="2.6"/>
<line x1="761.60" y1="1464.30" x2="814.00" y2="1464.30" stroke="#2a2a2a" stroke-width="1.1"/>
<line x1="787.80" y1="1671.00" x2="787.80" y2="1618.50" stroke="#2a2a2a" stroke-width="1.15" stroke-dasharray="5.3 4.0"/>
<line x1="761.60" y1="1671.00" x2="814.00" y2="1671.00" stroke="#2a2a2a" stroke-width="1.1"/>
<line x1="919.50" y1="1687.10" x2="919.50" y2="1695.80" stroke="#444" stroke-width="1.3"/>
<rect x="866.60" y="1385.50" width="105.80" height="42.70" fill="none" stroke="#2a2a2a" stroke-width="1.1"/>
<line x1="866.60" y1="1386.40" x2="972.40" y2="1386.40" stroke="#000" stroke-width="2.45"/>
<line x1="919.50" y1="1385.50" x2="919.50" y2="1383.60" stroke="#2a2a2a" stroke-width="1.15" stroke-dasharray="5.3 4.0" stroke-dashoffset="2.6"/>
<line x1="893.30" y1="1383.60" x2="945.70" y2="1383.60" stroke="#2a2a2a" stroke-width="1.1"/>
<line x1="919.50" y1="1470.40" x2="919.50" y2="1428.20" stroke="#2a2a2a" stroke-width="1.15" stroke-dasharray="5.3 4.0"/>
<line x1="893.30" y1="1470.40" x2="945.70" y2="1470.40" stroke="#2a2a2a" stroke-width="1.1"/>
<text transform="matrix(0.14370 0 0 0.15483 963.50 1301.14)" font-size="200" font-weight="bold" fill="#000" stroke="#000" stroke-width="2.09" stroke-linejoin="round">G</text>
<text transform="matrix(0.19615 0 0 0.19675 716.48 1305.57)" font-size="200" fill="#000" stroke="#000" stroke-width="4.34" stroke-linejoin="round">p=0.0228</text>
<text transform="matrix(0.18916 0 0 0.18704 607.26 1756.21)" font-size="200" fill="#000" stroke="#000" stroke-width="4.22" stroke-linejoin="round">≤3Rib</text>
<text transform="matrix(0.20380 0 0 0.19428 742.91 1756.19)" font-size="200" fill="#000" stroke="#000" stroke-width="4.27" stroke-linejoin="round">≥4rib</text>
<text transform="matrix(0.14229 0 0 0.19125 844.14 1756.14)" font-size="200" fill="#000" stroke="#000" stroke-width="5.88" stroke-linejoin="round">S</text>
<text transform="matrix(0.20945 0 0 0.19007 864.15 1756.35)" font-size="200" fill="#000" stroke="#000" stroke-width="3.64" stroke-linejoin="round">ternum</text>
<rect x="1044.50" y="1243.90" width="427.10" height="439.30" fill="none" stroke="#3c3c3c" stroke-width="1.25"/>
<line x1="1044.50" y1="1318.80" x2="1044.50" y2="1677.30" stroke="#222" stroke-width="1.2"/>
<line x1="1037.00" y1="1318.80" x2="1044.50" y2="1318.80" stroke="#4a4a4a" stroke-width="1.25"/>
<text transform="matrix(0.06016 0 0 0.06540 1012.05 1324.63)" font-size="200" fill="#111" stroke="#111" stroke-width="8.31" stroke-linejoin="round">1.0</text>
<line x1="1037.00" y1="1408.40" x2="1044.50" y2="1408.40" stroke="#4a4a4a" stroke-width="1.25"/>
<text transform="matrix(0.05900 0 0 0.06533 1012.48 1414.22)" font-size="200" fill="#111" stroke="#111" stroke-width="8.47" stroke-linejoin="round">0.9</text>
<line x1="1037.00" y1="1497.90" x2="1044.50" y2="1497.90" stroke="#4a4a4a" stroke-width="1.25"/>
<text transform="matrix(0.05878 0 0 0.06532 1012.48 1503.72)" font-size="200" fill="#111" stroke="#111" stroke-width="8.51" stroke-linejoin="round">0.8</text>
<line x1="1037.00" y1="1587.30" x2="1044.50" y2="1587.30" stroke="#4a4a4a" stroke-width="1.25"/>
<text transform="matrix(0.05923 0 0 0.06534 1012.48 1593.12)" font-size="200" fill="#111" stroke="#111" stroke-width="8.44" stroke-linejoin="round">0.7</text>
<line x1="1037.00" y1="1677.30" x2="1044.50" y2="1677.30" stroke="#4a4a4a" stroke-width="1.25"/>
<text transform="matrix(0.05878 0 0 0.06532 1012.48 1683.12)" font-size="200" fill="#111" stroke="#111" stroke-width="8.51" stroke-linejoin="round">0.6</text>
<line x1="1159.30" y1="1683.20" x2="1357.80" y2="1683.20" stroke="#111" stroke-width="1.35"/>
<line x1="1159.30" y1="1683.20" x2="1159.30" y2="1691.90" stroke="#444" stroke-width="1.3"/>
<rect x="1080.10" y="1302.20" width="158.40" height="67.10" fill="none" stroke="#2a2a2a" stroke-width="1.1"/>
<line x1="1080.10" y1="1329.70" x2="1238.50" y2="1329.70" stroke="#000" stroke-width="2.45"/>
<line x1="1159.30" y1="1302.20" x2="1159.30" y2="1260.70" stroke="#2a2a2a" stroke-width="1.15" stroke-dasharray="5.3 4.0" stroke-dashoffset="2.6"/>
<line x1="1119.70" y1="1260.70" x2="1198.90" y2="1260.70" stroke="#2a2a2a" stroke-width="1.1"/>
<line x1="1159.30" y1="1445.20" x2="1159.30" y2="1369.30" stroke="#2a2a2a" stroke-width="1.15" stroke-dasharray="5.3 4.0"/>
<line x1="1119.70" y1="1445.20" x2="1198.90" y2="1445.20" stroke="#2a2a2a" stroke-width="1.1"/>
<line x1="1357.80" y1="1683.20" x2="1357.80" y2="1691.90" stroke="#444" stroke-width="1.3"/>
<rect x="1278.50" y="1390.70" width="158.60" height="100.80" fill="none" stroke="#2a2a2a" stroke-width="1.1"/>
<line x1="1278.50" y1="1461.20" x2="1437.10" y2="1461.20" stroke="#000" stroke-width="2.45"/>
<line x1="1357.80" y1="1390.70" x2="1357.80" y2="1378.30" stroke="#2a2a2a" stroke-width="1.15" stroke-dasharray="5.3 4.0" stroke-dashoffset="2.6"/>
<line x1="1318.40" y1="1378.30" x2="1397.20" y2="1378.30" stroke="#2a2a2a" stroke-width="1.1"/>
<line x1="1357.80" y1="1562.20" x2="1357.80" y2="1491.50" stroke="#2a2a2a" stroke-width="1.15" stroke-dasharray="5.3 4.0"/>
<line x1="1318.40" y1="1562.20" x2="1397.20" y2="1562.20" stroke="#2a2a2a" stroke-width="1.1"/>
<circle cx="1357.50" cy="1666.70" r="3.0" fill="none" stroke="#444" stroke-width="1.3"/>
<text transform="matrix(0.14915 0 0 0.15356 1420.21 1299.75)" font-size="200" font-weight="bold" fill="#000" stroke="#000" stroke-width="2.01" stroke-linejoin="round">H</text>
<text transform="matrix(0.19673 0 0 0.19543 1169.37 1645.18)" font-size="200" fill="#000" stroke="#000" stroke-width="4.30" stroke-linejoin="round">p=0.00574</text>
<text transform="matrix(0.19363 0 0 0.19126 1091.77 1755.20)" font-size="200" fill="#000" stroke="#000" stroke-width="4.21" stroke-linejoin="round">&lt;70cm</text>
<text transform="matrix(0.11923 0 0 0.12506 1210.93 1742.15)" font-size="200" fill="#000" stroke="#000" stroke-width="7.13" stroke-linejoin="round">2</text>
<text transform="matrix(0.19618 0 0 0.19133 1288.63 1755.20)" font-size="200" fill="#000" stroke="#000" stroke-width="4.16" stroke-linejoin="round">≥70cm</text>
<text transform="matrix(0.12363 0 0 0.12528 1407.79 1742.17)" font-size="200" fill="#000" stroke="#000" stroke-width="6.88" stroke-linejoin="round">2</text>
</svg>
</body></html>
